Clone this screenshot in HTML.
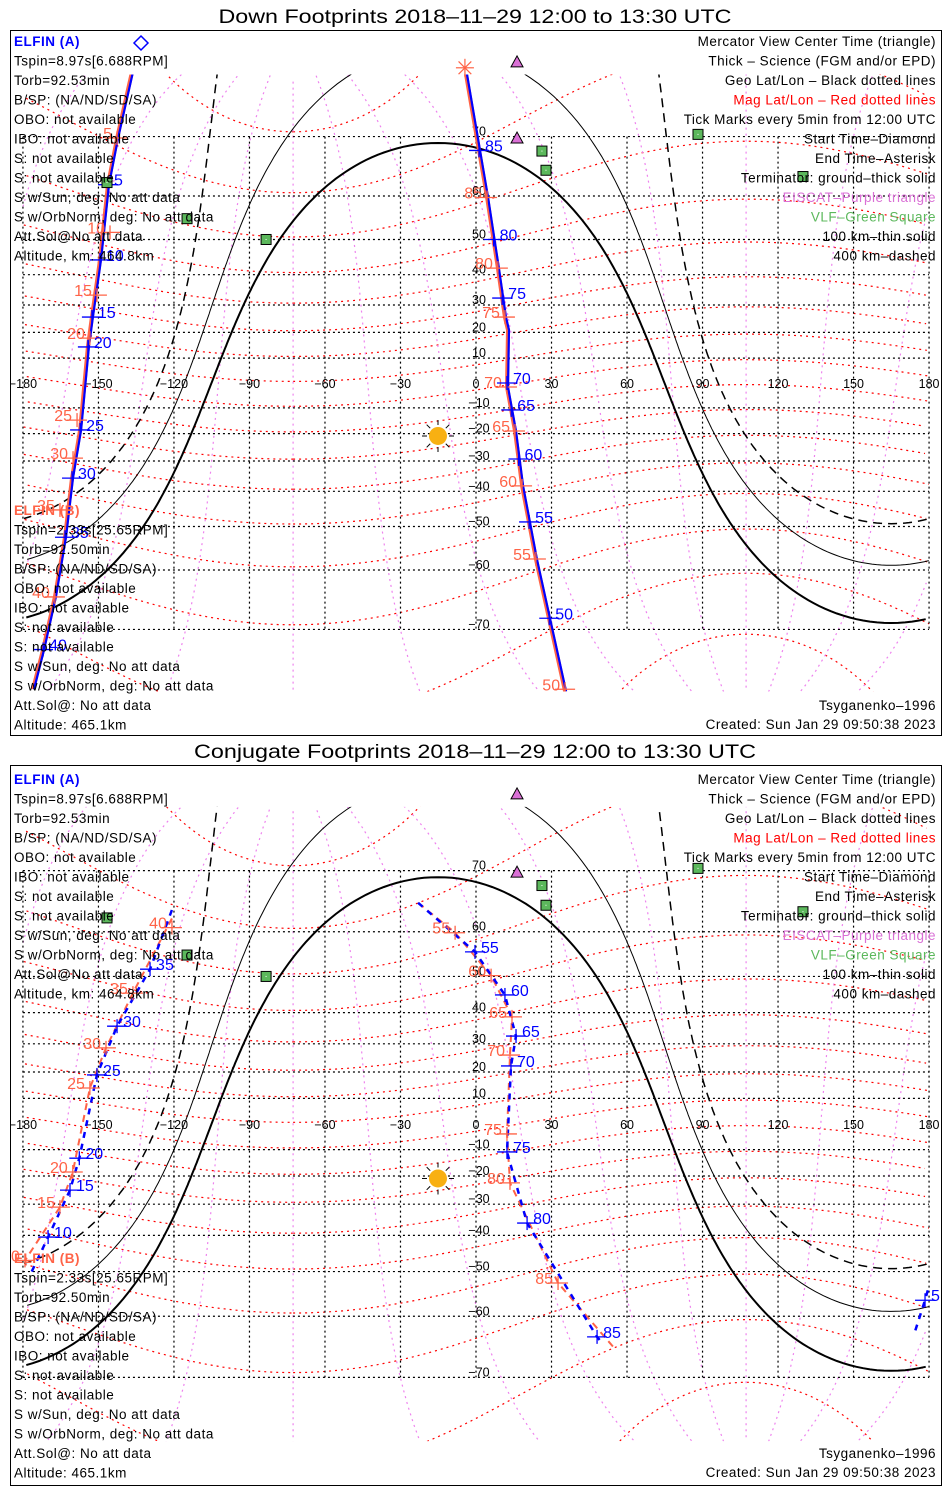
<!DOCTYPE html>
<html><head><meta charset="utf-8"><style>
html,body{margin:0;padding:0;background:#fff;width:950px;height:1500px;overflow:hidden}
svg{display:block;font-family:"Liberation Sans",sans-serif}
</style></head><body>
<svg id="chart" width="950" height="1500" viewBox="0 0 950 1500" xmlns="http://www.w3.org/2000/svg">
<rect x="0" y="0" width="950" height="1500" fill="#fff"/>
<text x="475" y="23" font-size="19" text-anchor="middle" textLength="513" lengthAdjust="spacingAndGlyphs">Down Footprints 2018–11–29 12:00 to 13:30 UTC</text>
<text x="475" y="758" font-size="19" text-anchor="middle" textLength="562" lengthAdjust="spacingAndGlyphs">Conjugate Footprints 2018–11–29 12:00 to 13:30 UTC</text>
<rect x="10.5" y="30.5" width="931" height="705" fill="none" stroke="#000"/>
<rect x="10.5" y="765.5" width="931" height="720" fill="none" stroke="#000"/>
<g id="maps"></g>
<g id="texts"></g>
</svg>
<script>
// ---- data ----
const sunLon = -15.1, sunLat = -20.9;
const magPoleLat = 80.65, magPoleLon = -72.68;
const gridLatTicks = [-70,-60,-50,-40,-30,-20,-10,10,20,30,40,50,60,70];
const gridLonTicks = [-180,-150,-120,-90,-60,-30,0,30,60,90,120,150,180];
const vlfLon = [-146.6,-114.8,-83.4,26.2,27.8,88.2,129.9];
const vlfLat = [62.6,55.1,50.0,67.9,64.8,70.3,63.7];
const eiscatLon = [16.3,16.3];
const eiscatLat = [78.1,69.8];

// Down panel, left pass
const dnLeftLon = [-136.7,-142.6,-146.2,-149.4,-152.6,-154.2,-157.3,-160.5,-163.3,-167.3,-172.0,-176.0];
const dnLeftLat = [77.2,69.8,62.2,44.4,25.7,14.4,-18.6,-35.8,-52.7,-65.0,-72.6,-76.8];
const dnALeftTickLon = [-146.2,-149.4,-152.6,-154.2,-157.3,-160.5,-163.3,-172.0];
const dnALeftTickLat = [62.2,44.4,25.7,14.4,-18.6,-35.8,-52.7,-72.6];
const dnALeftLabels = ["5","10","15","20","25","30","35","40"];
const dnBLeftTickLon = [-142.6,-145.4,-150.6,-153.4,-158.5,-160.1,-165.3,-167.3];
const dnBLeftTickLat = [69.8,51.8,33.4,17.8,-14.8,-29.0,-45.5,-65.0];
const dnBLeftLabels = ["5","10","15","20","25","30","35","40"];
// Down panel, centre pass
const dnCenLon = [-4.4,4.4,8.7,11.5,12.7,12.3,15.5,18.3,23.8,35.4];
const dnCenLat = [77.6,59.7,42.0,25.7,20.9,-1.6,-19.0,-38.3,-57.7,-77.0];
const dnACenTickLon = [1.2,7.0,10.4,12.3,14.0,16.9,21.1,29.1];
const dnACenTickLat = [68.0,50.0,32.4,0,-10.8,-29.3,-48.8,-68.4];
const dnACenLabels = ["85","80","75","70","65","60","55","50"];
const dnBCenTickLon = [4.4,8.7,11.5,12.3,15.5,18.3,23.8,35.4];
const dnBCenTickLat = [59.7,42.0,25.7,-1.6,-19.0,-38.3,-57.7,-76.8];
const dnBCenLabels = ["85","80","75","70","65","60","55","50"];
const endLon = -4.4, endLat = 77.6;

// Conjugate panel, left pass
const cjALeftLon = [-120.8,-129.5,-142.6,-150.6,-157.6,-161.3,-170.0,-177.2];
const cjALeftLat = [64.0,51.8,35.8,18.9,-13.3,-25.1,-40.5,-50.9];
const cjALeftTickLon = [-129.5,-142.6,-150.6,-157.6,-161.3,-170.0];
const cjALeftTickLat = [51.8,35.8,18.9,-13.3,-25.1,-40.5];
const cjALeftLabels = ["35","30","25","20","15","10"];
const cjBLeftLon = [-120.8,-136.3,-147.0,-153.4,-160.2,-165.3,-179.2];
const cjBLeftLat = [62.5,45.6,28.6,14.0,-18.5,-31.0,-47.1];
const cjBLeftTickLon = [-120.8,-136.3,-147.0,-153.4,-160.2,-165.3,-179.2];
const cjBLeftTickLat = [60.8,45.6,28.6,14.0,-18.5,-31.0,-47.1];
const cjBLeftLabels = ["40","35","30","25","20","15","10"];
const cjAWrapLon = [179.5,178.4,174.0];
const cjAWrapLat = [-54.5,-56.7,-63.4];
const cjAWrapTickLon = [178.4];
const cjAWrapTickLat = [-56.7];
const cjAWrapLabels = ["5"];
// Conjugate panel, centre pass
const cjACenLon = [-23.0,-0.4,11.5,15.9,13.9,12.3,20.3,48.1,50.0];
const cjACenLat = [65.2,55.8,45.1,32.6,22.2,-10.9,-36.2,-63.8,-64.8];
const cjACenTickLon = [-0.4,11.5,15.9,13.9,12.3,20.3,48.1];
const cjACenTickLat = [55.8,45.1,32.6,22.2,-10.9,-36.2,-63.8];
const cjACenLabels = ["55","60","65","70","75","80","85"];
const cjBCenLon = [-23.0,-8.3,6.0,14.3,13.5,12.3,13.5,32.6,55.2];
const cjBCenLat = [65.2,59.8,50.2,38.7,26.1,-3.9,-22.5,-52.8,-65.8];
const cjBCenTickLon = [-8.3,6.0,14.3,13.5,12.3,13.5,32.6];
const cjBCenTickLat = [59.8,50.2,38.7,26.1,-3.9,-22.5,-52.8];
const cjBCenLabels = ["55","60","65","70","75","80","85"];

// ---- rendering ----
const NS = "http://www.w3.org/2000/svg";
const BLUE = "#0000ff", ORANGE = "#ff6347";
const panels = [
  {key:"down", top:30, y0:383, R:142},
  {key:"conjugate", top:765, y0:1124, R:146}
];
const D = Math.PI/180;
function xOf(lon){ return 476 + lon*2.517; }
function yOf(lat,p){ const l=Math.max(-85,Math.min(85,lat)); return p.y0 - p.R*Math.log(Math.tan(Math.PI/4 + l*D/2)); }
function mk(tag, attrs, parent){
  const el = document.createElementNS(NS, tag);
  for (const k in attrs) el.setAttribute(k, attrs[k]);
  parent.appendChild(el);
  return el;
}
function pathFromLL(lons, lats, p){
  let d = "", px = null;
  for (let i=0;i<lons.length;i++){
    const x = xOf(lons[i]), y = yOf(lats[i],p);
    d += (px===null || Math.abs(x-px)>300 ? "M" : "L") + x.toFixed(1) + " " + y.toFixed(1) + " ";
    px = x;
  }
  return d;
}
function magToGeo(ml, mlon){
  const th = (90-ml)*D, ph = mlon*D;
  let v = [Math.sin(th)*Math.cos(ph), Math.sin(th)*Math.sin(ph), Math.cos(th)];
  const b = (90-magPoleLat)*D;
  v = [Math.cos(b)*v[0] + Math.sin(b)*v[2], v[1], -Math.sin(b)*v[0] + Math.cos(b)*v[2]];
  const a = magPoleLon*D;
  v = [Math.cos(a)*v[0] - Math.sin(a)*v[1], Math.sin(a)*v[0] + Math.cos(a)*v[1], v[2]];
  return [Math.atan2(v[1],v[0])/D, Math.asin(Math.max(-1,Math.min(1,v[2])))/D];
}
function circleLL(cLat, cLon, rad){
  const lons=[], lats=[];
  const p1=cLat*D, dd=rad*D;
  for (let t=0;t<=360;t+=1){
    const th=t*D;
    const la = Math.asin(Math.sin(p1)*Math.cos(dd)+Math.cos(p1)*Math.sin(dd)*Math.cos(th));
    let lo = cLon*D + Math.atan2(Math.sin(th)*Math.sin(dd)*Math.cos(p1), Math.cos(dd)-Math.sin(p1)*Math.sin(la));
    lo = lo/D; while(lo>180) lo-=360; while(lo<-180) lo+=360;
    lons.push(lo); lats.push(la/D);
  }
  return [lons,lats];
}

const maps = document.getElementById("maps");
const defs = mk("defs", {}, maps);
panels.forEach((p, pi) => {
  const cp = mk("clipPath", {id:"clip"+pi}, defs);
  const yt = yOf(77,p), yb = yOf(-77,p);
  mk("rect", {x:11, y:yt, width:929, height:yb-yt}, cp);
  const g = mk("g", {"clip-path":"url(#clip"+pi+")"}, maps);
  
  
  const gm = mk("g", {}, maps);
  
  

  // magnetic latitude lines
  for (let ml=-80; ml<=80; ml+=10){
    const lons=[], lats=[];
    for (let mlon=0; mlon<=360; mlon+=2){ const q=magToGeo(ml,mlon); lons.push(q[0]); lats.push(q[1]); }
    const el = mk("path", {d:pathFromLL(lons,lats,p), fill:"none", stroke:"#ff0000", "stroke-width":1.2, "stroke-dasharray":"2 4"}, g);
    
    
  }
  // magnetic longitude lines
  for (let mlon=0; mlon<360; mlon+=30){
    const lons=[], lats=[];
    for (let ml=-86; ml<=86; ml+=2){ const q=magToGeo(ml,mlon); lons.push(q[0]); lats.push(q[1]); }
    const el = mk("path", {d:pathFromLL(lons,lats,p), fill:"none", stroke:"#ee82ee", "stroke-width":1.2, "stroke-dasharray":"2 4"}, g);
    
    
  }
  // geographic grid
  gridLatTicks.forEach(lat => {
    const y = yOf(lat,p);
    const el = mk("line", {x1:xOf(-180), x2:xOf(180), y1:y, y2:y, stroke:"#000", "stroke-width":1.2, "stroke-dasharray":"2 3"}, g);
    
    
    const t = mk("text", {x:479, y:y-1, "font-size":12.5, "text-anchor":"middle", fill:"#000"}, g);
    
    
    t.textContent = String(lat).replace("-","−");
  });
  gridLonTicks.forEach(lon => {
    const x = xOf(lon);
    const el = mk("line", {x1:x, x2:x, y1:yOf(70,p), y2:yOf(-70,p), stroke:"#000", "stroke-width":1.2, "stroke-dasharray":"2 3"}, g);
    
    
    const t = mk("text", {x:x, y:p.y0+5, "font-size":12.5, "text-anchor":"middle", fill:"#000"}, g);
    
    
    t.textContent = String(lon).replace("-","−");
  });
  // terminators (ground, 100 km, 400 km)
  const aLat = -sunLat, aLon = sunLon > 0 ? sunLon-180 : sunLon+180;
  [[90,2,"none","terminator-ground"],[79.93,1,"none","terminator-100km"],[70.16,1.5,"9 6","terminator-400km"]].forEach(c => {
    const ll = circleLL(aLat, aLon, c[0]);
    const el = mk("path", {d:pathFromLL(ll[0],ll[1],p), fill:"none", stroke:"#000", "stroke-width":c[1], "stroke-dasharray":c[2]}, g);
    
    
  });
  // VLF squares
  vlfLon.forEach((lon,i) => {
    const x=xOf(lon), y=yOf(vlfLat[i],p);
    const el = mk("rect", {x:x-5, y:y-5, width:10, height:10, fill:"#5cb85c", stroke:"#000", "stroke-width":1}, gm);
    
    
    mk("rect", {x:x-0.5, y:y-0.5, width:1, height:1, fill:"#fff"}, gm);
  });
  // EISCAT triangles
  eiscatLon.forEach((lon,i) => {
    const x=xOf(lon), y=yOf(eiscatLat[i],p);
    const el = mk("polygon", {points:`${x-6},${y+5} ${x+6},${y+5} ${x},${y-6}`, fill:"#da70d6", stroke:"#000", "stroke-width":1}, gm);
    
    
  });
  // Sun
  const sx=xOf(sunLon), sy=yOf(sunLat,p);
  const sg = mk("g", {}, gm);
  
  
  for (let k=0;k<8;k++){ const a=k*Math.PI/4; mk("line",{x1:sx+11*Math.cos(a),y1:sy+11*Math.sin(a),x2:sx+16*Math.cos(a),y2:sy+16*Math.sin(a),stroke:"#000","stroke-width":1},sg); }
  mk("circle", {cx:sx, cy:sy, r:9, fill:"#f8b012"}, sg);
  p.g = g; p.gm = gm;
});

function drawTrack(p, lons, lats, color, width, dash, name){
  const el = mk("path", {d:pathFromLL(lons,lats,p), fill:"none", stroke:color, "stroke-width":width, "stroke-dasharray":dash, "stroke-linejoin":"round"}, p.g);
  
  
}
function drawTicks(p, lons, lats, labels, color, side, name){
  lons.forEach((lon,i) => {
    const x=xOf(lon), y=yOf(lats[i],p);
    const tg = mk("g", {}, p.g);
    
    
    mk("line", {x1:x-10, x2:x+10, y1:y, y2:y, stroke:color, "stroke-width":1.3}, tg);
    mk("line", {x1:x, x2:x, y1:y-7, y2:y+7, stroke:color, "stroke-width":1.3}, tg);
    const t = mk("text", {x: side>0 ? x+6 : x-5, y:y+1, "font-size":16, fill:color, "text-anchor": side>0 ? "start" : "end"}, tg);
    t.textContent = labels[i];
  });
}
const P1 = panels[0], P2 = panels[1];
// down panel
drawTrack(P1, dnLeftLon, dnLeftLat, ORANGE, 4, "none", "down-track-b-left");
drawTrack(P1, dnLeftLon.map(v=>v+0.4), dnLeftLat, BLUE, 2.2, "none", "down-track-a-left");
drawTrack(P1, dnCenLon, dnCenLat, ORANGE, 4, "none", "down-track-b-center");
drawTrack(P1, dnCenLon.map(v=>v+0.4), dnCenLat, BLUE, 2.2, "none", "down-track-a-center");
drawTicks(P1, dnBLeftTickLon, dnBLeftTickLat, dnBLeftLabels, ORANGE, -1, "down-tick-b");
drawTicks(P1, dnALeftTickLon, dnALeftTickLat, dnALeftLabels, BLUE, 1, "down-tick-a");
drawTicks(P1, dnBCenTickLon, dnBCenTickLat, dnBCenLabels, ORANGE, -1, "down-tick-b");
drawTicks(P1, dnACenTickLon, dnACenTickLat, dnACenLabels, BLUE, 1, "down-tick-a");
{
  const el = mk("polygon", {points:"141,36 148,43 141,50 134,43", fill:"none", stroke:BLUE, "stroke-width":1.5}, P1.gm);
  
  
  const ex=xOf(endLon), ey=yOf(endLat,P1);
  const ag = mk("g", {}, P1.gm);
  
  
  for (let k=0;k<8;k++){ const a=k*Math.PI/4; mk("line",{x1:ex,y1:ey,x2:ex+9*Math.cos(a),y2:ey+9*Math.sin(a),stroke:ORANGE,"stroke-width":1.2},ag); }
}
// conjugate panel
drawTrack(P2, cjBLeftLon, cjBLeftLat, ORANGE, 2, "7 5", "conj-track-b-left");
drawTrack(P2, cjALeftLon, cjALeftLat, BLUE, 2.5, "6 6", "conj-track-a-left");
drawTrack(P2, cjAWrapLon, cjAWrapLat, BLUE, 2.5, "6 6", "conj-track-a-wrap");
drawTrack(P2, cjBCenLon, cjBCenLat, ORANGE, 2, "7 5", "conj-track-b-center");
drawTrack(P2, cjACenLon, cjACenLat, BLUE, 2.5, "6 6", "conj-track-a-center");
drawTicks(P2, cjBLeftTickLon, cjBLeftTickLat, cjBLeftLabels, ORANGE, -1, "conj-tick-b");
drawTicks(P2, cjALeftTickLon, cjALeftTickLat, cjALeftLabels, BLUE, 1, "conj-tick-a");
drawTicks(P2, cjAWrapTickLon, cjAWrapTickLat, cjAWrapLabels, BLUE, 1, "conj-tick-a");
drawTicks(P2, cjBCenTickLon, cjBCenTickLat, cjBCenLabels, ORANGE, -1, "conj-tick-b");
drawTicks(P2, cjACenTickLon, cjACenTickLat, cjACenLabels, BLUE, 1, "conj-tick-a");

// ---- text blocks ----
const texts = document.getElementById("texts");
const infoA = ["Tspin=8.97s[6.688RPM]","Torb=92.53min","B/SP: (NA/ND/SD/SA)","OBO: not available","IBO: not available","S: not available","S: not available","S w/Sun, deg: No att data","S w/OrbNorm, deg: No att data","Att.Sol@No att data","Altitude, km: 464.8km"];
const infoB = ["Tspin=2.33s[25.65RPM]","Torb=92.50min","B/SP: (NA/ND/SD/SA)","OBO: not available","IBO: not available","S: not available","S: not available","S w/Sun, deg: No att data","S w/OrbNorm, deg: No att data","Att.Sol@: No att data","Altitude: 465.1km"];
const legend = [["Mercator View Center Time (triangle)","#000"],["Thick – Science (FGM and/or EPD)","#000"],["Geo Lat/Lon – Black dotted lines","#000"],["Mag Lat/Lon – Red dotted lines","#ff0000"],["Tick Marks every 5min from 12:00 UTC","#000"],["Start Time–Diamond","#000"],["End Time–Asterisk","#000"],["Terminator: ground–thick solid","#000"],["EISCAT–Purple triangle","#da70d6"],["VLF–Green Square","#5cb85c"],["100 km–thin solid","#000"],["400 km–dashed","#000"]];
function txt(x,y,s,color,anchor,size,weight,name){
  const t = mk("text", {x:x, y:y, fill:color, "font-size":size, "text-anchor":anchor, "font-weight":weight, "letter-spacing":"0.5"}, texts);
  
  
  t.textContent = s;
}
[[46,515,710],[784,1263,1458]].forEach(b => {
  txt(14, b[0], "ELFIN (A)", BLUE, "start", 13.5, "bold", "elfin-a-header");
  infoA.forEach((s,i) => txt(14, b[0]+19.5*(i+1), s, "#000", "start", 13.5, "normal", "elfin-a-info"));
  txt(14, b[1], "ELFIN (B)", ORANGE, "start", 13.5, "bold", "elfin-b-header");
  infoB.forEach((s,i) => txt(14, b[1]+19.5*(i+1), s, "#000", "start", 13.5, "normal", "elfin-b-info"));
  legend.forEach((l,i) => txt(936, b[0]+19.5*i, l[0], l[1], "end", 13.5, "normal", "legend-entry"));
  txt(936, b[2], "Tsyganenko–1996", "#000", "end", 13.5, "normal", "model-label");
  txt(936, b[2]+19, "Created: Sun Jan 29 09:50:38 2023", "#000", "end", 13.5, "normal", "created-timestamp");
});
</script>
</body></html>
